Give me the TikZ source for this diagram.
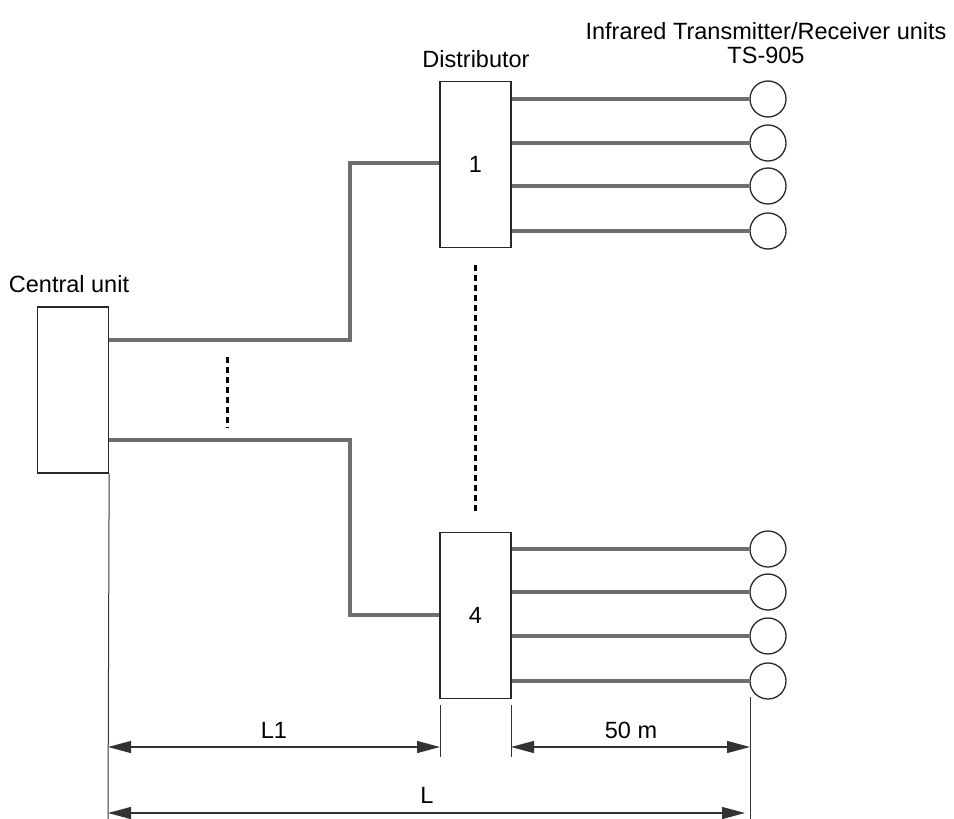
\documentclass[tikz,border=0pt]{standalone}
\usepackage{fontspec}
\setmainfont{Liberation Sans}
\usetikzlibrary{arrows.meta,calc}
\definecolor{wiregray}{RGB}{110,110,110}
\definecolor{boxline}{RGB}{40,40,40}
\begin{document}
\begin{tikzpicture}[x=1pt,y=-1pt,
  unitbox/.style={draw=boxline,line width=1.3pt,fill=white,minimum width=71pt,minimum height=166pt,inner sep=0pt,font=\fontsize{23.5}{27}\selectfont},
  tsunit/.style={draw=boxline,line width=1.3pt,circle,minimum size=36pt,inner sep=0pt},
  mainwire/.style={wiregray,line width=4.5pt},
  branch/.style={wiregray,line width=3.2pt},
  dots/.style={black,line width=3pt,dash pattern=on 6pt off 4pt},
  ext/.style={black!80,line width=1pt},
  dim/.style={black!80,line width=1.2pt,{Triangle[length=23pt,width=12pt]}-{Triangle[length=23pt,width=12pt]}},
  lbl/.style={font=\fontsize{23.5}{24}\selectfont,inner sep=0pt}]
\useasboundingbox (0,0) rectangle (954,819);
% boxes
\node[unitbox] (cu) at (73,390) {};
\node[unitbox] (d1) at (475.5,164.5) {1};
\node[unitbox] (d4) at (475.5,615.5) {4};
% receivers
\foreach \i/\y in {1/99,2/143,3/186,4/231,5/549,6/592,7/636,8/681}{
  \node[tsunit] (t\i) at (768,\y) {};
}
% labels
\node[lbl] (lcu) at (69,284) {Central unit};
\node[lbl] (ldist) at (476,59) {Distributor};
\node[lbl,align=center] (lts) at (766,43) {Infrared Transmitter/Receiver units\\TS-905};
% main wires
\draw[mainwire] (cu.east |- 0,340) -| (350,163) -- (d1.west |- 0,163);
\draw[mainwire] (cu.east |- 0,440) -| (350,615) -- (d4.west |- 0,615);
% branches
\foreach \i in {1,2,3,4}{ \draw[branch] (d1.east |- t\i) -- (t\i.west); }
\foreach \i in {5,6,7,8}{ \draw[branch] (d4.east |- t\i) -- (t\i.west); }
% dotted
\draw[dots] (227,357) -- (227,428);
\draw[dots] (475,265) -- (475,513);
% extension lines
\draw[ext] (cu.south east) -- (108,819);
\draw[ext] (440,705) -- (440,757);
\draw[ext] (511,705) -- (511,757);
\draw[ext] (750,697) -- (750,819);
% dimension arrows
\coordinate (a0) at (108,747);
\coordinate (a1) at (440,747);
\coordinate (a2) at (511,747);
\coordinate (a3) at (750,747);
\draw[dim] (a0) -- (a1);
\draw[dim] (a2) -- (a3);
\coordinate (b0) at (108,813);
\coordinate (b1) at (745,813);
\draw[dim] (b0) -- (b1);
\node[lbl] (l1) at (274,730) {L1};
\node[lbl] (l50) at (631,730) {50 m};
\node[lbl] (lL) at (427,795) {L};
\end{tikzpicture}
\end{document}
